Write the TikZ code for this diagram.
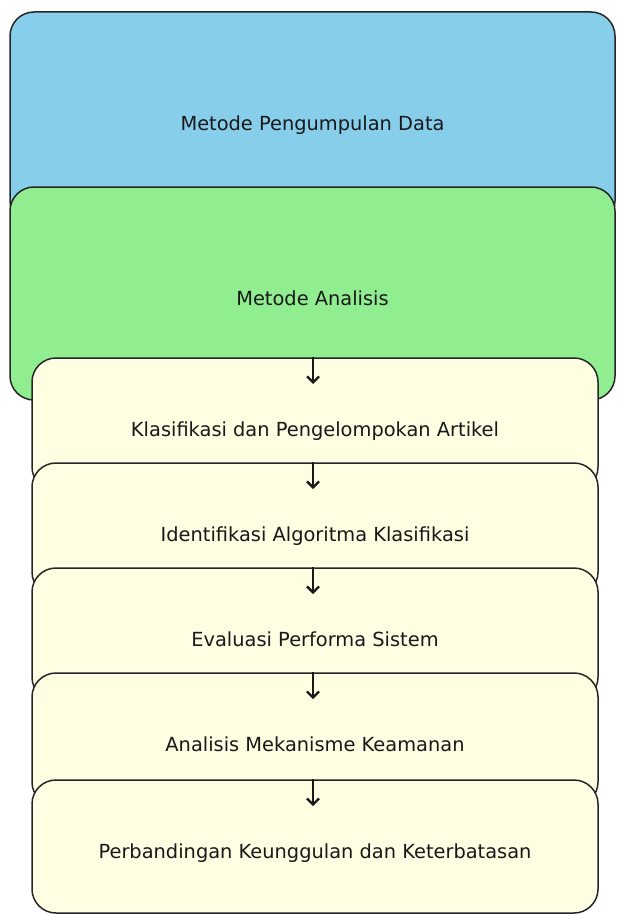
\documentclass[tikz,border=0pt]{standalone}
\usepackage{fontspec}
\setmainfont{DejaVu Sans}
\usetikzlibrary{arrows.meta}
\definecolor{skyblue}{RGB}{135,206,235}
\definecolor{lightgreen}{RGB}{144,238,144}
\definecolor{lightyellow}{RGB}{255,253,226}
\tikzset{
  box/.style={draw=black!85, line width=1.5pt, rounded corners=24pt, inner sep=0pt,
    font=\fontsize{19.4}{22}\selectfont, text=black!90, text height=24pt, text depth=0pt},
  bigbox/.style={box, minimum width=605pt, minimum height=213pt},
  stepbox/.style={box, fill=lightyellow, minimum width=566pt, minimum height=133pt},
  flow/.style={-{Straight Barb[length=6pt,width=12pt]}, line width=2.3pt, black!90}
}
\newcommand{\stepnode}{\node[stepbox]}

\begin{document}
\begin{tikzpicture}[x=1pt,y=-1pt]
  \useasboundingbox (0,0) rectangle (617,915);
  \node[bigbox, fill=skyblue] (data) at (312.5,118.5) {Metode Pengumpulan Data}; %
  \node[bigbox, fill=lightgreen] (anl) at (312.5,293.5) {Metode Analisis}; %
  \stepnode (s1) at (315,424.5) {Klasifikasi dan Pengelompokan Artikel};
  \coordinate (t1) at (313,384);
  \draw[flow] (s1.north -| t1) -- (t1);
  \stepnode (s2) at (315,529.5) {Identifikasi Algoritma Klasifikasi};
  \coordinate (t2) at (313,489);
  \draw[flow] (s2.north -| t2) -- (t2);
  \stepnode (s3) at (315,634.5) {Evaluasi Performa Sistem};
  \coordinate (t3) at (313,594);
  \draw[flow] (s3.north -| t3) -- (t3);
  \stepnode (s4) at (315,739.5) {Analisis Mekanisme Keamanan};
  \coordinate (t4) at (313,699);
  \draw[flow] (s4.north -| t4) -- (t4);
  \stepnode (s5) at (315,846.5) {Perbandingan Keunggulan dan Keterbatasan};
  \coordinate (t5) at (313,806);
  \draw[flow] (s5.north -| t5) -- (t5);
\end{tikzpicture}
\end{document}
